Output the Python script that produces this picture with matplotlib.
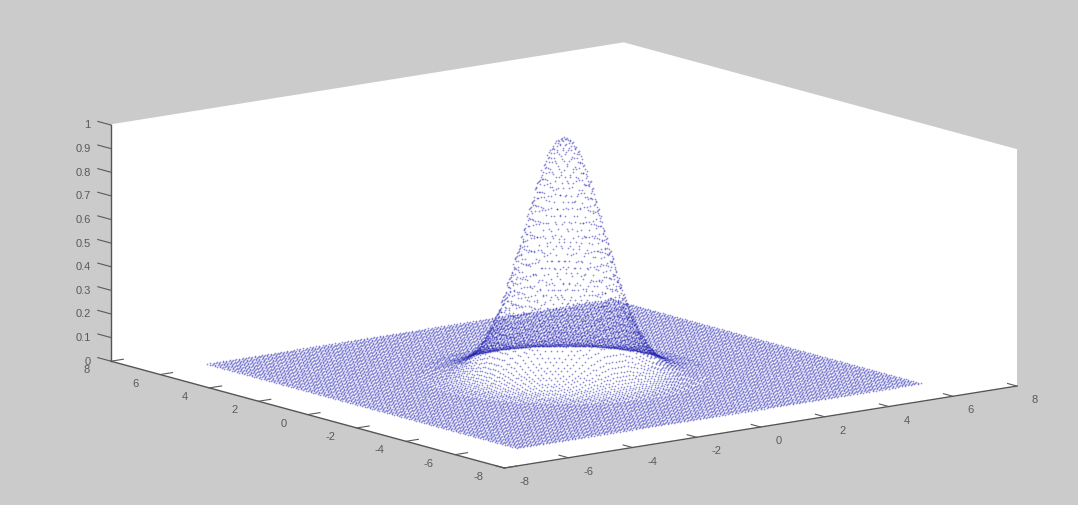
import matplotlib
matplotlib.use("Agg")
import numpy as np
import matplotlib.pyplot as plt
from mpl_toolkits.mplot3d import proj3d

plt.rcParams["font.family"] = ["Liberation Sans", "DejaVu Sans"]
plt.rcParams["axes.unicode_minus"] = False

# ticks
X_TICKS = [-8, -6, -4, -2, 0, 2, 4, 6, 8]
Y_TICKS = [-8, -6, -4, -2, 0, 2, 4, 6, 8]
Z_TICKS = [0, 0.1, 0.2, 0.3, 0.4, 0.5, 0.6, 0.7, 0.8, 0.9, 1]
Z_LABELS = ["0", "0.1", "0.2", "0.3", "0.4", "0.5", "0.6", "0.7", "0.8", "0.9", "1"]

# mesh nodes along x and y (floor runs about -6.3 .. 6.3)
GRID_START = -6.3
GRID_STEP = 0.1
GRID_COUNT = 127

# height against distance from the peak, one entry per 0.05, read off the
# silhouette in the picture. each node takes the nearest entry, flat after that
RING_STEP = 0.05
RING_HEIGHT = [
    1.000, 0.999, 0.995, 0.989, 0.980, 0.969, 0.956, 0.941, 0.923, 0.904,
    0.882, 0.860, 0.835, 0.810, 0.783, 0.755, 0.726, 0.697, 0.667, 0.637,
    0.607, 0.576, 0.546, 0.516, 0.487, 0.458, 0.430, 0.402, 0.375, 0.350,
    0.325, 0.301, 0.278, 0.256, 0.236, 0.216, 0.198, 0.181, 0.164, 0.149,
    0.135, 0.122, 0.110, 0.099, 0.089, 0.080, 0.071, 0.063, 0.056, 0.050,
    0.044, 0.039, 0.034, 0.030, 0.026, 0.023, 0.020, 0.017, 0.015, 0.013,
    0.011, 0.010, 0.008, 0.007, 0.006, 0.005, 0.004, 0.004, 0.003, 0.003,
    0.002, 0.0,
]

W, H, DPI = 1078, 506, 100
BG = "#cbcbcb"
AXIS = "#555555"
TEXT = "#5a5a5a"
DOT = "#2020b0"

nodes = GRID_START + GRID_STEP * np.arange(GRID_COUNT)
xx, yy = np.meshgrid(nodes, nodes)
ring = np.rint(np.hypot(xx, yy) / RING_STEP).astype(int)
zz = np.array(RING_HEIGHT)[np.minimum(ring, len(RING_HEIGHT) - 1)]

fig = plt.figure(figsize=(W / DPI, H / DPI), dpi=DPI, facecolor=BG)
ax = fig.add_axes([0, 0, 1, 1], projection="3d", proj_type="ortho")
ax.patch.set_facecolor(BG)
ax.view_init(elev=30, azim=-127.5)
ax.set_box_aspect((1, 1, 1.013))
ax.set_xlim(-8, 8, view_margin=0)
ax.set_ylim(-8, 8, view_margin=0)
ax.set_zlim(0, 1, view_margin=0)

# box in the original is stretched sideways, so drop the square aspect
ax.apply_aspect = lambda position=None: None

# place the axes so the box corners land on their pixels
M = ax.get_proj()
uL, vL, _ = proj3d.proj_transform(-8, 8, 0, M)
uR, vR, _ = proj3d.proj_transform(8, -8, 0, M)
uF, vF, _ = proj3d.proj_transform(-8, -8, 0, M)
uT, vT, _ = proj3d.proj_transform(-8, 8, 1, M)
sx = (1017 - 111) / (uR - uL)
sy = (469 - 126) / (vT - vF)
u0, u1 = ax.viewLim.intervalx
v0, v1 = ax.viewLim.intervaly
left = 111 + sx * (u0 - uL)
bottom = (H - 469) + sy * (v0 - vF)
ax.set_position([left / W, bottom / H, sx * (u1 - u0) / W, sy * (v1 - v0) / H])

# ── Panes, axis lines, ticks ──────────────────────────────────
ax.grid(False)
for axis in (ax.xaxis, ax.yaxis, ax.zaxis):
    axis.set_pane_color("white")
    axis.pane.set_edgecolor("white")
    axis.line.set_color(AXIS)
    axis.line.set_linewidth(1.0)
    axis._axinfo["tick"]["inward_factor"] = 0.0
    axis._axinfo["tick"]["outward_factor"] = 0.3
    axis._axinfo["tick"]["linewidth"] = {True: 0.8, False: 0.8}
    axis._axinfo["tick"]["color"] = AXIS

# z ticks lean along +y in the original
ax.zaxis._get_tickdir = lambda position: 1
ax.zaxis._axinfo["tick"]["outward_factor"] = 0.42

ax.set_xticks(X_TICKS)
ax.set_yticks(Y_TICKS)
ax.set_zticks(Z_TICKS)
ax.set_zticklabels(Z_LABELS)
ax.tick_params(axis="both", labelsize=8, colors=TEXT)
ax.tick_params(axis="x", pad=3)
ax.tick_params(axis="y", pad=4)
ax.tick_params(axis="z", pad=-1.5)

for tick in ax.xaxis.get_major_ticks():
    tick.label1.set(ha="left", va="center")
for tick in ax.yaxis.get_major_ticks():
    tick.label1.set(ha="right", va="bottom")
for tick in ax.zaxis.get_major_ticks():
    tick.label1.set(ha="right", va="center")

ax.scatter(xx.ravel(), yy.ravel(), zz.ravel(), s=1.6, c=DOT, marker="o",
           linewidths=0, alpha=0.5, depthshade=False)

fig.savefig("out.png", dpi=DPI, facecolor=BG)
plt.close(fig)
